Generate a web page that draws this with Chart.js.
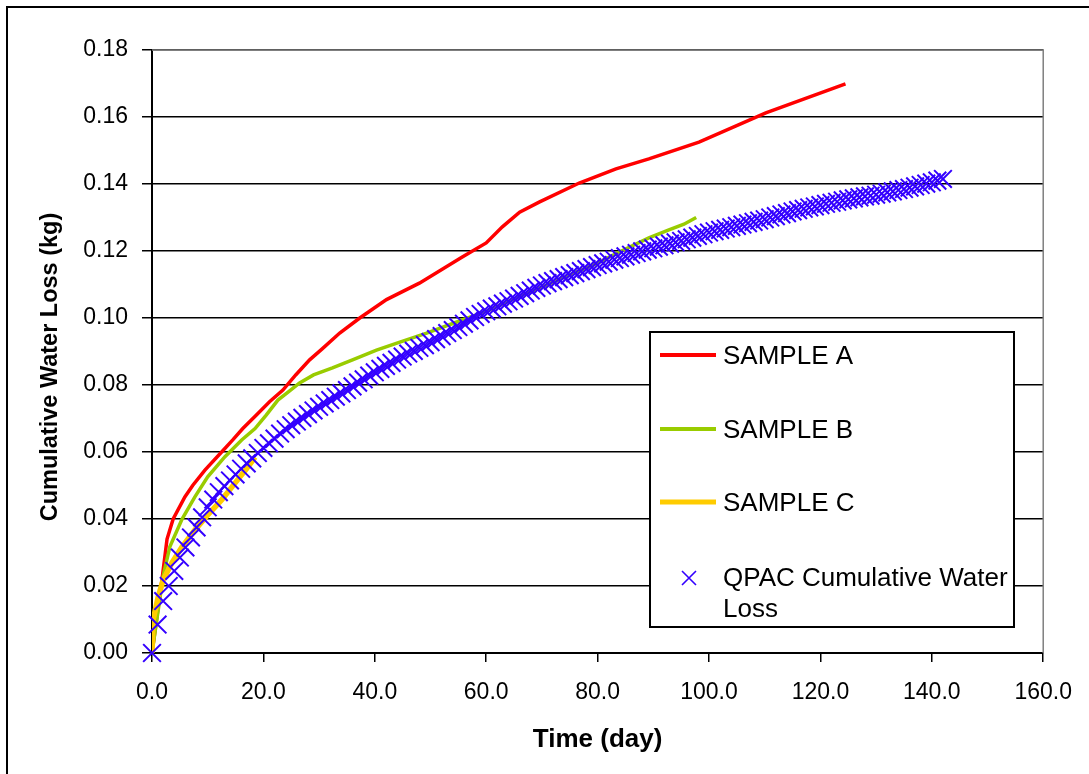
<!DOCTYPE html>
<html>
<head>
<meta charset="utf-8">
<script src="https://cdn.jsdelivr.net/npm/chart.js@4/dist/chart.umd.min.js"></script>
<style>
html, body { margin: 0; padding: 0; background: #fff; }
#wrap { position: relative; width: 1089px; height: 774px; }
</style>
</head>
<body>
<div id="wrap"><canvas id="lossChart"></canvas></div>
<script>
// measured samples: time (day) / cumulative loss (kg)
const sampleADays = [0, 1.8, 2.7, 3.8, 5.9, 7.3, 9.5, 12.5, 14.5, 16.3, 18.7, 21.1, 23.5, 25.8, 28.3, 30.5, 33.7, 37.3, 42.1, 48.0, 55.7, 60.0, 62.9, 66.0, 69.5, 76.7, 83.3, 89.2, 98.2, 110.2, 124.5]
const sampleALoss = [0, 0.022, 0.034, 0.040, 0.0466, 0.050, 0.0546, 0.060, 0.0636, 0.067, 0.071, 0.075, 0.0785, 0.083, 0.0875, 0.0907, 0.0955, 0.100, 0.1055, 0.1104, 0.1182, 0.1224, 0.1272, 0.1316, 0.1346, 0.1403, 0.1445, 0.1475, 0.1525, 0.1612, 0.1699]

const sampleBDays = [0, 2.0, 3.2, 5.4, 7.7, 10.0, 13.1, 16.1, 18.5, 20.5, 22.6, 24.2, 26.5, 29.0, 32.4, 36.0, 40.3, 44.5, 49.3, 55.7, 60.0, 65.4, 70.0, 74.9, 79.5, 83.9, 89.2, 92.8, 95.5, 97.7]
const sampleBLoss = [0, 0.023, 0.0317, 0.040, 0.0466, 0.0526, 0.0586, 0.0636, 0.067, 0.071, 0.0755, 0.0776, 0.0806, 0.083, 0.0851, 0.0875, 0.0904, 0.0928, 0.0955, 0.0994, 0.102, 0.106, 0.1092, 0.1128, 0.116, 0.1197, 0.1239, 0.1263, 0.128, 0.130]

const sampleCDays = [0, 0.2, 1.1, 2.0, 3.6, 5.4, 7.7, 10.0, 12.5, 14.9, 17.2, 18.5]
const sampleCLoss = [0, 0.0098, 0.0167, 0.0218, 0.027, 0.0317, 0.0367, 0.0412, 0.0457, 0.0507, 0.0555, 0.0585]

// QPAC model, one value per day starting at day 0
const qpacLoss = [
	0.0000, 0.0085, 0.0155, 0.0200, 0.0245, 0.0285, 0.0315, 0.0345, 0.0375, 0.0405,
	0.0435, 0.0458, 0.0480, 0.0498, 0.0515, 0.0533, 0.0550, 0.0566, 0.0581, 0.0597,
	0.0612, 0.0626, 0.0640, 0.0655, 0.0668, 0.0680, 0.0691, 0.0702, 0.0713, 0.0724,
	0.0735, 0.0745, 0.0755, 0.0765, 0.0775, 0.0785, 0.0796, 0.0807, 0.0817, 0.0828,
	0.0838, 0.0848, 0.0857, 0.0866, 0.0876, 0.0885, 0.0894, 0.0902, 0.0911, 0.0919,
	0.0928, 0.0937, 0.0946, 0.0955, 0.0964, 0.0973, 0.0983, 0.0993, 0.1003, 0.1012,
	0.1020, 0.1028, 0.1035, 0.1043, 0.1050, 0.1058, 0.1066, 0.1074, 0.1082, 0.1090,
	0.1097, 0.1104, 0.1110, 0.1116, 0.1122, 0.1128, 0.1134, 0.1140, 0.1146, 0.1152,
	0.1158, 0.1163, 0.1168, 0.1174, 0.1179, 0.1184, 0.1189, 0.1194, 0.1199, 0.1204,
	0.1208, 0.1213, 0.1217, 0.1222, 0.1226, 0.1230, 0.1235, 0.1240, 0.1245, 0.1250,
	0.1255, 0.1259, 0.1263, 0.1267, 0.1271, 0.1275, 0.1279, 0.1283, 0.1287, 0.1291,
	0.1295, 0.1300, 0.1304, 0.1309, 0.1313, 0.1318, 0.1322, 0.1326, 0.1330, 0.1333,
	0.1337, 0.1341, 0.1344, 0.1347, 0.1351, 0.1354, 0.1357, 0.1360, 0.1363, 0.1365,
	0.1368, 0.1371, 0.1375, 0.1378, 0.1382, 0.1385, 0.1389, 0.1393, 0.1397, 0.1401,
	0.1405, 0.1410, 0.1415
]

const seriesLabels = ["SAMPLE A", "SAMPLE B", "SAMPLE C", "QPAC Cumulative Water Loss"]
const yTitle = "Cumulative Water Loss (kg)"
const xTitle = "Time (day)"

const FONT = "'Liberation Sans', Arial, sans-serif"

function pairs(xs, ys) {
	return xs.map((x, i) => ({ x: x, y: ys[i] }))
}

// grey plot border, y title, boxed legend and outer frame
const decorations = {
	id: "decorations",
	beforeDatasetsDraw(chart) {
		const { ctx, chartArea: a } = chart
		ctx.save()
		ctx.strokeStyle = "#808080"
		ctx.lineWidth = 1.5
		ctx.beginPath()
		ctx.moveTo(a.left, a.top)
		ctx.lineTo(a.right, a.top)
		ctx.lineTo(a.right, a.bottom)
		ctx.stroke()
		ctx.restore()
	},
	afterDraw(chart) {
		const ctx = chart.ctx
		ctx.save()

		// y axis title sits a little below the axis centre in the original
		ctx.save()
		ctx.translate(51, 367)
		ctx.rotate(-Math.PI / 2)
		ctx.font = "bold 23.5px " + FONT
		ctx.fillStyle = "#000"
		ctx.textAlign = "center"
		ctx.textBaseline = "middle"
		ctx.fillText(yTitle, 0, 0)
		ctx.restore()

		ctx.fillStyle = "#fff"
		ctx.fillRect(650, 332, 364, 295)
		ctx.strokeStyle = "#000"
		ctx.lineWidth = 2
		ctx.strokeRect(650, 332, 364, 295)

		ctx.font = "26px " + FONT
		ctx.textBaseline = "middle"
		ctx.fillStyle = "#000"
		const rows = [357, 431, 504, 579]
		chart.data.datasets.forEach((ds, i) => {
			const y = rows[i]
			if (ds.showLine) {
				ctx.strokeStyle = ds.borderColor
				ctx.lineWidth = ds.legendWidth
				ctx.beginPath()
				ctx.moveTo(660, y - 2)
				ctx.lineTo(716, y - 2)
				ctx.stroke()
			} else {
				ctx.strokeStyle = ds.borderColor
				ctx.lineWidth = 1.6
				ctx.beginPath()
				ctx.moveTo(682, y - 8)
				ctx.lineTo(696, y + 6)
				ctx.moveTo(696, y - 8)
				ctx.lineTo(682, y + 6)
				ctx.stroke()
			}
			// wrap the label inside the box
			const words = ds.label.split(" ")
			let line = ""
			let ly = y
			words.forEach(w => {
				const test = line ? line + " " + w : w
				if (ctx.measureText(test).width > 290 && line) {
					ctx.fillText(line, 723, ly)
					line = w
					ly += 31
				} else {
					line = test
				}
			})
			ctx.fillText(line, 723, ly)
		})

		ctx.strokeStyle = "#000"
		ctx.lineWidth = 2
		ctx.strokeRect(7, 7, 1200, 1000)
		ctx.restore()
	}
}

const lossChart = new Chart(document.getElementById("lossChart"), {
	type: "scatter",
	data: {
		datasets: [{
			label: seriesLabels[0],
			data: pairs(sampleADays, sampleALoss),
			showLine: true,
			borderColor: "#ff0000",
			borderWidth: 3.5,
			legendWidth: 4,
			pointRadius: 0,
			tension: 0,
			order: 4
		}, {
			label: seriesLabels[1],
			data: pairs(sampleBDays, sampleBLoss),
			showLine: true,
			borderColor: "#99cc00",
			borderWidth: 3.5,
			legendWidth: 4,
			pointRadius: 0,
			tension: 0,
			order: 3
		}, {
			label: seriesLabels[2],
			data: pairs(sampleCDays, sampleCLoss),
			showLine: true,
			borderColor: "#ffcc00",
			borderWidth: 5.5,
			legendWidth: 5,
			pointRadius: 0,
			tension: 0,
			order: 2
		}, {
			label: seriesLabels[3],
			data: qpacLoss.map((v, day) => ({ x: day, y: v })),
			showLine: false,
			borderColor: "#3300ff",
			backgroundColor: "#3300ff",
			pointStyle: "crossRot",
			pointRadius: 12.5,
			pointBorderWidth: 2,
			clip: false,
			order: 1
		}]
	},
	options: {
		responsive: true,
		maintainAspectRatio: false,
		animation: false,
		events: [],
		layout: { padding: { top: 50, right: 44, bottom: 0, left: 0 } },
		plugins: {
			legend: { display: false },
			tooltip: { enabled: false }
		},
		scales: {
			x: {
				type: "linear",
				min: 0,
				max: 160,
				afterFit: s => { s.height = 121 },
				ticks: {
					stepSize: 20,
					padding: 17,
					color: "#000",
					font: { family: FONT, size: 23 },
					callback: v => v.toFixed(1)
				},
				grid: { drawOnChartArea: false, drawTicks: true, tickLength: 9, color: "#000", lineWidth: 1.5 },
				border: { color: "#000", width: 2 },
				title: {
					display: true,
					text: xTitle,
					color: "#000",
					font: { family: FONT, size: 26, weight: "bold" },
					padding: { top: 0, bottom: 19 }
				}
			},
			y: {
				type: "linear",
				min: 0,
				max: 0.18,
				afterFit: s => { s.width = 152 },
				ticks: {
					stepSize: 0.02,
					padding: 14,
					color: "#000",
					font: { family: FONT, size: 23 },
					callback: v => v.toFixed(2)
				},
				grid: { color: "#000", lineWidth: 1.5, tickLength: 10 },
				border: { color: "#000", width: 2 },
				title: { display: false }
			}
		}
	},
	plugins: [decorations]
})
</script>
</body>
</html>
